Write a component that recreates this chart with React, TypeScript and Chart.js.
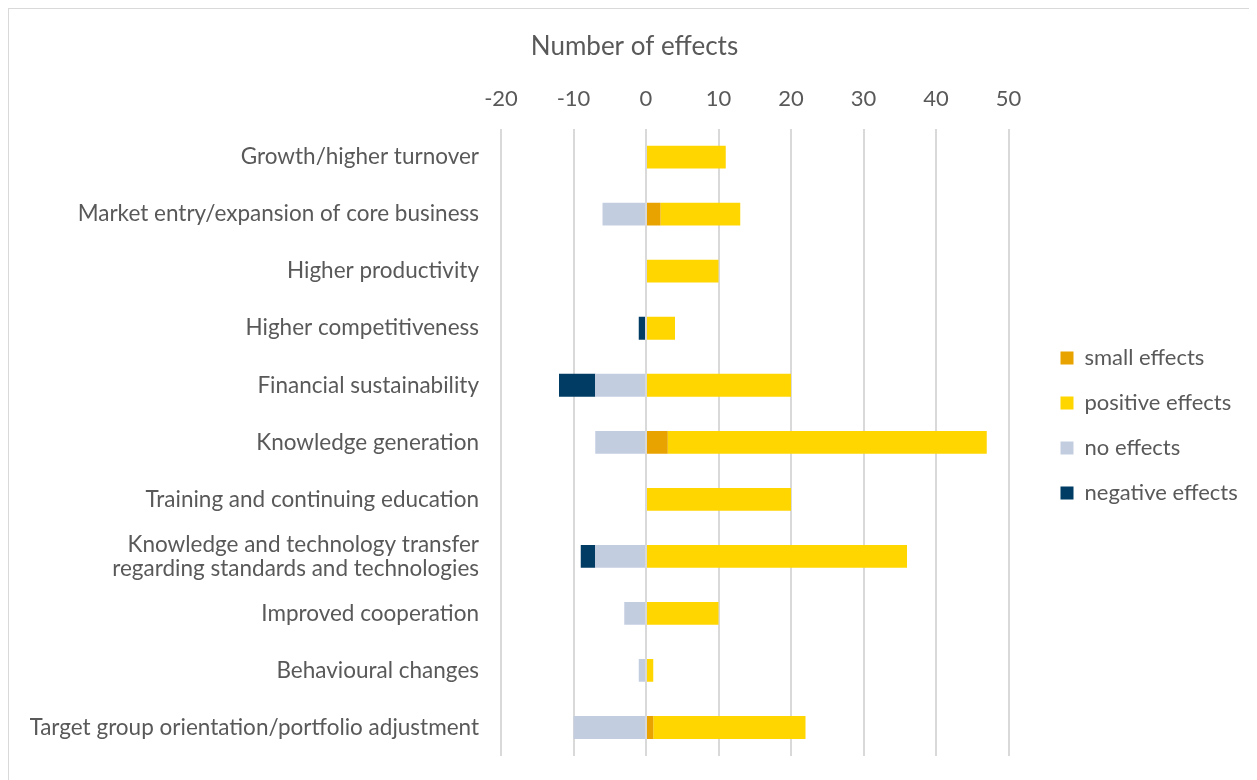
import React, { useEffect, useRef } from "react";
import { Chart, registerables } from "chart.js";

Chart.register(...registerables);

const categories: (string | string[])[] = [
  "Growth/higher turnover",
  "Market entry/expansion of core business",
  "Higher productivity",
  "Higher competitiveness",
  "Financial sustainability",
  "Knowledge generation",
  "Training and continuing education",
  ["Knowledge and technology transfer", "regarding standards and technologies"],
  "Improved cooperation",
  "Behavioural changes",
  "Target group orientation/portfolio adjustment",
];

const smallEffects = [0, 2, 0, 0, 0, 3, 0, 0, 0, 0, 1];
const positiveEffects = [11, 11, 10, 4, 20, 44, 20, 36, 10, 1, 21];
const noEffects = [0, -6, 0, 0, -7, -7, 0, -7, -3, -1, -10];
const negativeEffects = [0, 0, 0, -1, -5, 0, 0, -2, 0, 0, 0];

const FONT = "Lato, 'Open Sans', sans-serif";
const TEXT = "#595959";

export default function App() {
  const ref = useRef<HTMLCanvasElement | null>(null);

  useEffect(() => {
    if (!ref.current) return;
    const chart = new Chart(ref.current, {
      type: "bar",
      data: {
        labels: categories,
        datasets: [
          { label: "small effects", data: smallEffects, backgroundColor: "#E8A300" },
          { label: "positive effects", data: positiveEffects, backgroundColor: "#FFD600" },
          { label: "no effects", data: noEffects, backgroundColor: "#C3CDE0" },
          { label: "negative effects", data: negativeEffects, backgroundColor: "#003C64" },
        ],
      },
      options: {
        indexAxis: "y",
        animation: false,
        responsive: false,
        layout: { padding: { left: 21, right: 18, top: 0, bottom: 24 } },
        datasets: { bar: { barPercentage: 0.4, categoryPercentage: 1 } },
        scales: {
          x: {
            position: "top",
            stacked: true,
            min: -20,
            max: 50,
            ticks: { stepSize: 10, color: TEXT, font: { family: FONT, size: 22 }, padding: 16 },
            grid: { color: "#d9d9d9", lineWidth: 2, drawTicks: false },
            border: { display: false },
          },
          y: {
            stacked: true,
            ticks: { color: TEXT, font: { family: FONT, size: 22.5, lineHeight: 1.07 }, padding: 22 },
            grid: { display: false, drawTicks: false },
            border: { display: false },
            afterFit: (s: any) => {
              s.width = 471;
              s.paddingTop = 0;
              s.paddingBottom = 0;
            },
          },
          gap: {
            type: "category",
            position: "right",
            ticks: { display: false },
            grid: { display: false, drawTicks: false },
            border: { display: false },
            afterFit: (s: any) => {
              s.width = 29;
              s.paddingTop = 0;
              s.paddingBottom = 0;
            },
          },
        },
        plugins: {
          title: {
            display: true,
            text: "Number of effects",
            color: TEXT,
            font: { family: FONT, size: 26, weight: "normal" },
            padding: { top: 22, bottom: 8 },
          },
          legend: {
            position: "right",
            title: {
              display: true,
              text: "",
              font: { family: FONT, size: 10 },
              padding: { top: 74, bottom: 0 },
            },
            labels: {
              color: TEXT,
              font: { family: FONT, size: 22 },
              boxWidth: 13,
              boxHeight: 13,
              padding: 23,
            },
          },
          tooltip: { enabled: false },
        },
      },
    });
    return () => chart.destroy();
  }, []);

  return (
    <div
      style={{
        width: 1249,
        height: 772,
        borderTop: "1px solid #d9d9d9",
        borderLeft: "1px solid #d9d9d9",
        boxSizing: "border-box",
        overflow: "hidden",
      }}
    >
      <canvas ref={ref} width={1248} height={771} style={{ display: "block" }} />
    </div>
  );
}
